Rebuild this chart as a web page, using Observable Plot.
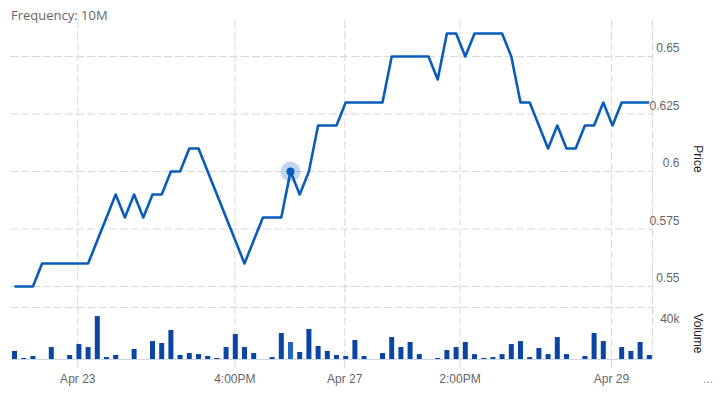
<!DOCTYPE html>
<html>
<head>
<meta charset="utf-8">
<script src="https://cdn.jsdelivr.net/npm/d3@7"></script>
<script src="https://cdn.jsdelivr.net/npm/@observablehq/plot@0.6"></script>
<style>
  html, body { margin: 0; padding: 0; background: #fff; }
  #chart { position: relative; width: 721px; height: 400px; overflow: hidden; }
  #chart svg { position: absolute; left: 0; top: 0; }
  .freq { position: absolute; left: 11px; top: 7px; font: 13px "Open Sans", sans-serif; line-height: 16px; color: #666; white-space: nowrap; }
  .more { position: absolute; left: 703px; top: 372px; font: 12px "Liberation Sans", Arial, sans-serif; line-height: 14px; color: #999; }
</style>
</head>
<body>
<div id="chart">
  <div class="freq">Frequency: 10M</div>
  <div class="more">...</div>
</div>
<script>
// ---- data ----
const price = [
  0.55, 0.55, 0.55, 0.56, 0.56, 0.56, 0.56, 0.56, 0.56, 0.57,
  0.58, 0.59, 0.58, 0.59, 0.58, 0.59, 0.59, 0.60, 0.60, 0.61,
  0.61, 0.60, 0.59, 0.58, 0.57, 0.56, 0.57, 0.58, 0.58, 0.58,
  0.60, 0.59, 0.60, 0.62, 0.62, 0.62, 0.63, 0.63, 0.63, 0.63,
  0.63, 0.65, 0.65, 0.65, 0.65, 0.65, 0.64, 0.66, 0.66, 0.65,
  0.66, 0.66, 0.66, 0.66, 0.65, 0.63, 0.63, 0.62, 0.61, 0.62,
  0.61, 0.61, 0.62, 0.62, 0.63, 0.62, 0.63, 0.63, 0.63, 0.63
];
const volume = [
  6200, 800, 2300, 0, 9200, 0, 3100, 11500, 9200, 33000,
  1500, 3100, 0, 7700, 0, 13800, 12300, 22300, 3100, 4600,
  3800, 2300, 800, 9200, 19200, 9200, 4600, 0, 1500, 20000,
  13100, 5400, 23100, 10000, 6200, 3100, 2300, 14600, 2300, 0,
  4600, 16900, 9200, 13100, 3800, 0, 800, 6900, 9200, 13100,
  3800, 800, 1500, 3800, 11500, 13800, 1500, 8500, 3800, 16900,
  3800, 0, 2300, 20000, 13800, 0, 9200, 6200, 13100, 3100
];
const xTickPos = [6.88, 23.95, 35.90, 48.42, 64.88];
const xTickLabels = ["Apr 23", "4:00PM", "Apr 27", "2:00PM", "Apr 29"];
const priceTicks = [0.55, 0.575, 0.6, 0.625, 0.65];
const priceTickLabels = ["0.55", "0.575", "0.6", "0.625", "0.65"];
const volumeTicks = [40000];
const volumeTickLabels = ["40k"];
const hoverIndex = 30;

// ---- styles ----
const lineColor = "#0a5cba";
const barColor = "#0a45a3";
const barHover = "#2563c4";
const gridColor = "#d8d8d8";
const axisLine = "#ccd6eb";
const dash = "8,3";
const font = { fontFamily: "'Liberation Sans', Arial, sans-serif", fontSize: "12px", background: "transparent", overflow: "visible" };

const rows = price.map((p, i) => ({ i, price: p, vol: volume[i] }));
const xScale = { domain: [0, rows.length - 1], range: [14, 648.8] };

const pricePlot = Plot.plot({
  width: 721, height: 400,
  marginLeft: 10, marginRight: 69, marginTop: 20, marginBottom: 41,
  style: font,
  x: { ...xScale, axis: null },
  y: { domain: [0.55, 0.65], range: [286, 56] },
  marks: [
    Plot.ruleY(priceTicks, { stroke: gridColor, strokeDasharray: dash }),
    Plot.ruleX(xTickPos, { stroke: gridColor, strokeDasharray: dash }),
    Plot.frame({ anchor: "right", stroke: gridColor, strokeDasharray: dash }),
    Plot.lineY(rows, { x: "i", y: "price", stroke: lineColor, strokeWidth: 2.6, strokeLinejoin: "round", strokeLinecap: "butt" }),
    Plot.dot([rows[hoverIndex]], { x: "i", y: "price", r: 10, fill: lineColor, fillOpacity: 0.25, stroke: null }),
    Plot.dot([rows[hoverIndex]], { x: "i", y: "price", r: 4, fill: lineColor, stroke: null }),
    Plot.axisY({
      anchor: "right", ticks: priceTicks,
      tickFormat: d => priceTickLabels[priceTicks.indexOf(d)],
      tickSize: 0, tickPadding: 0, textAnchor: "end", dx: 27, dy: -8,
      fill: "#666", label: null
    }),
    Plot.text(["Price"], { text: d => d, frameAnchor: "right", rotate: 90, textAnchor: "middle", dx: 45, dy: -31, fill: "#222" })
  ]
});

const volumePlot = Plot.plot({
  width: 721, height: 400,
  marginLeft: 10, marginRight: 69, marginTop: 307, marginBottom: 41,
  style: font,
  x: { ...xScale },
  y: { domain: [0, 40000] },
  marks: [
    Plot.ruleY(volumeTicks, { stroke: gridColor, strokeDasharray: dash }),
    Plot.ruleX(rows.filter(d => d.i !== hoverIndex), { x: "i", y1: 0, y2: "vol", stroke: barColor, strokeWidth: 5 }),
    Plot.ruleX(rows.filter(d => d.i === hoverIndex), { x: "i", y1: 0, y2: "vol", stroke: barHover, strokeWidth: 5 }),
    Plot.ruleY([0], { stroke: axisLine }),
    Plot.axisX({
      ticks: xTickPos,
      tickFormat: d => xTickLabels[xTickPos.indexOf(d)],
      tickSize: 9, tickPadding: 6, stroke: axisLine, fill: "#666", label: null
    }),
    Plot.axisY({
      anchor: "right", ticks: volumeTicks,
      tickFormat: d => volumeTickLabels[volumeTicks.indexOf(d)],
      tickSize: 0, tickPadding: 0, textAnchor: "end", dx: 27, dy: 12,
      fill: "#666", label: null
    }),
    Plot.text(["Volume"], { text: d => d, frameAnchor: "right", rotate: 90, textAnchor: "middle", dx: 45, fill: "#222" })
  ]
});

const chart = document.getElementById("chart");
chart.insertBefore(volumePlot, chart.firstChild);
chart.insertBefore(pricePlot, chart.firstChild);
</script>
</body>
</html>
